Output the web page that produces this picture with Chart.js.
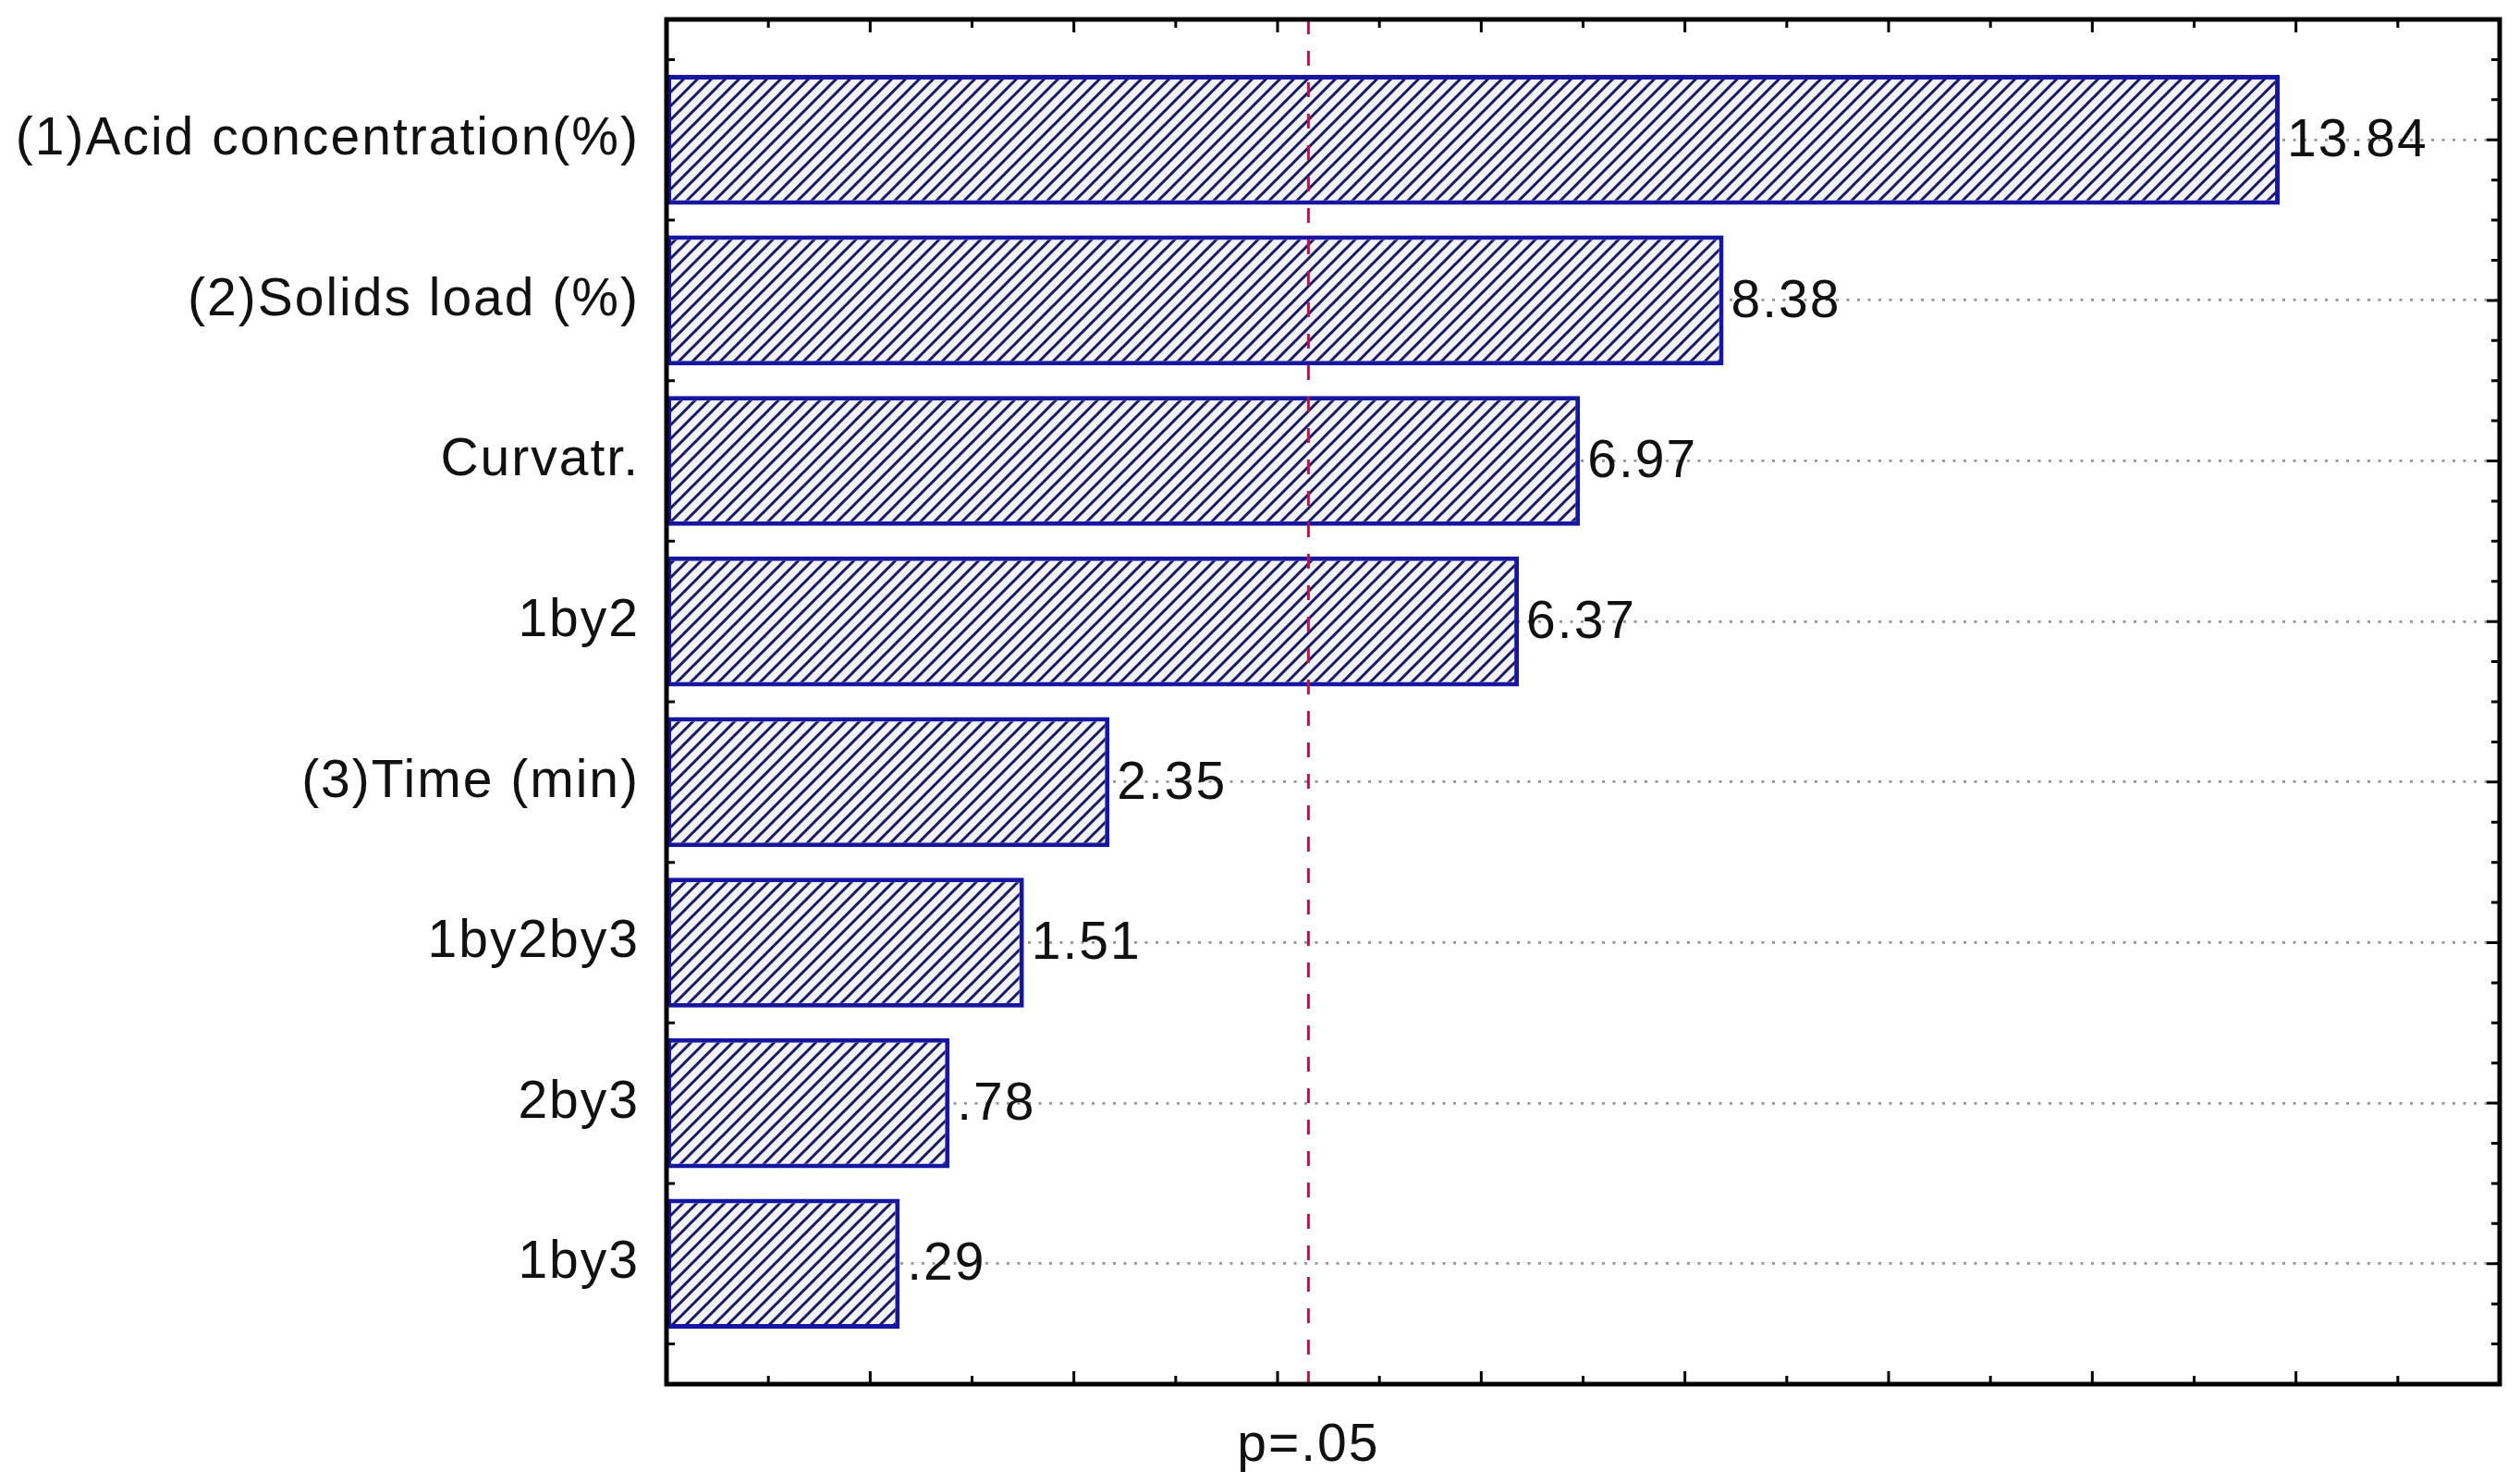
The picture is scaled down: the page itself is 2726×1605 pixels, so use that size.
<!DOCTYPE html>
<html>
<head>
<meta charset="utf-8">
<title>Pareto chart of standardized effects</title>
<script src="https://cdn.jsdelivr.net/npm/chart.js@4.4.1/dist/chart.umd.min.js"></script>
<style>
  html, body { margin: 0; padding: 0; background: #fff; }
  canvas { display: block; }
</style>
</head>
<body>
<canvas id="pareto-chart" width="2726" height="1605"></canvas>
<script>
// effects, top to bottom
const effectLabels = ["(1)Acid concentration(%)", "(2)Solids load (%)", "Curvatr.", "1by2", "(3)Time (min)", "1by2by3", "2by3", "1by3"];
const effectValues = [13.84, 8.38, 6.97, 6.37, 2.35, 1.51, 0.78, 0.29];

// critical t value for p=.05 and its caption
const pLimit = 4.303;
const pLimitLabel = "p=.05";

const xMin = -2, xMax = 16;
const fontFamily = "'Liberation Sans', Arial, sans-serif";

const canvas = document.getElementById('pareto-chart');
const ctx = canvas.getContext('2d');

function isWhole(v) {
  return Math.abs(v - Math.round(v)) < 1e-6;
}

function fmt(v) {
  return v.toFixed(2).replace(/^0\./, '.');
}

// hatched fill like the statistica bars
function hatchPattern() {
  const s = 15;
  const c = document.createElement('canvas');
  c.width = s; c.height = s;
  const g = c.getContext('2d');
  g.fillStyle = '#f2f2fd';
  g.fillRect(0, 0, s, s);
  g.strokeStyle = '#191960';
  g.lineWidth = 3;
  g.beginPath();
  g.moveTo(-2, s + 2); g.lineTo(s + 2, -2);
  g.moveTo(-2, 2); g.lineTo(2, -2);
  g.moveTo(s - 2, s + 2); g.lineTo(s + 2, s - 2);
  g.stroke();
  return ctx.createPattern(c, 'repeat');
}

const paretoDecor = {
  id: 'paretoDecor',
  beforeDraw(chart) {
    const c = chart.ctx;
    c.save();
    c.fillStyle = '#fff';
    c.fillRect(0, 0, chart.width, chart.height);
    c.restore();
    c.letterSpacing = '2px';
  },
  beforeDatasetsDraw(chart) {
    // inward tick marks on all four sides
    const c = chart.ctx;
    const area = chart.chartArea;
    const xs = chart.scales.x, ys = chart.scales.y;
    c.save();
    c.strokeStyle = '#000';
    c.lineWidth = 3;
    c.beginPath();
    xs.ticks.forEach(function(t) {
      const px = xs.getPixelForValue(t.value);
      const len = (Math.round(t.value) % 2 === 0) ? 14 : 9;
      c.moveTo(px, area.bottom); c.lineTo(px, area.bottom - len);
      c.moveTo(px, area.top); c.lineTo(px, area.top + len);
    });
    for (let v = ys.min; v <= ys.max + 1e-6; v += 0.25) {
      const py = ys.getPixelForValue(v);
      const len = isWhole(v) ? 14 : 9;
      c.moveTo(area.left, py); c.lineTo(area.left + len, py);
      c.moveTo(area.right, py); c.lineTo(area.right - len, py);
    }
    c.stroke();
    c.restore();
  },
  afterDatasetsDraw(chart) {
    const c = chart.ctx;
    const area = chart.chartArea;
    const xs = chart.scales.x;
    c.save();

    // p=.05 reference line
    const px = xs.getPixelForValue(pLimit);
    c.strokeStyle = '#b3164a';
    c.lineWidth = 3;
    c.setLineDash([16, 18]);
    c.beginPath();
    c.moveTo(px, area.top);
    c.lineTo(px, area.bottom);
    c.stroke();
    c.setLineDash([]);

    // frame
    c.strokeStyle = '#000';
    c.lineWidth = 5;
    c.strokeRect(area.left, area.top, area.right - area.left, area.bottom - area.top);

    // value labels
    c.fillStyle = '#111';
    c.font = '57px ' + fontFamily;
    c.textAlign = 'left';
    c.textBaseline = 'middle';
    chart.getDatasetMeta(0).data.forEach(function(bar, i) {
      c.fillText(fmt(effectValues[i]), bar.x + 8, bar.y + 2);
    });

    // p label under the axis
    c.textAlign = 'center';
    c.textBaseline = 'alphabetic';
    c.fillText(pLimitLabel, px, area.bottom + 83);
    c.restore();
  }
};

new Chart(canvas, {
  type: 'bar',
  data: {
    datasets: [{
      label: 'Standardized effect',
      data: effectValues.map(function(v, i) { return {x: v, y: i}; }),
      base: xMin,
      backgroundColor: hatchPattern(),
      borderColor: '#1616a0',
      borderWidth: 5,
      borderSkipped: false,
      barPercentage: 1,
      categoryPercentage: 0.81,
    }]
  },
  options: {
    indexAxis: 'y',
    responsive: false,
    animation: false,
    layout: {
      padding: {top: 21, right: 22, bottom: 108, left: 0}
    },
    scales: {
      x: {
        type: 'linear',
        min: xMin,
        max: xMax,
        ticks: {display: false, stepSize: 1},
        grid: {display: false},
        border: {display: false},
        afterFit: function(scale) { scale.height = 0; }
      },
      y: {
        type: 'linear',
        reverse: true,
        offset: false,
        min: -0.75,
        max: effectLabels.length - 0.25,
        // keep only the whole-number ticks, one per effect
        afterBuildTicks: function(scale) {
          scale.ticks = scale.ticks.filter(function(t) { return isWhole(t.value); });
        },
        afterFit: function(scale) {
          scale.width = 721;
          scale.paddingTop = 0;
          scale.paddingBottom = 0;
        },
        ticks: {
          stepSize: 1,
          autoSkip: false,
          padding: 29,
          color: '#111',
          font: {family: fontFamily, size: 57},
          callback: function(value) {
            return isWhole(value) ? effectLabels[Math.round(value)] : '';
          }
        },
        grid: {
          offset: false,
          drawTicks: false,
          color: '#959595',
          lineWidth: 2.8
        },
        border: {display: false, dash: [3, 8.5]}
      }
    },
    plugins: {
      legend: {display: false},
      tooltip: {enabled: false}
    }
  },
  plugins: [paretoDecor]
});
</script>
</body>
</html>
